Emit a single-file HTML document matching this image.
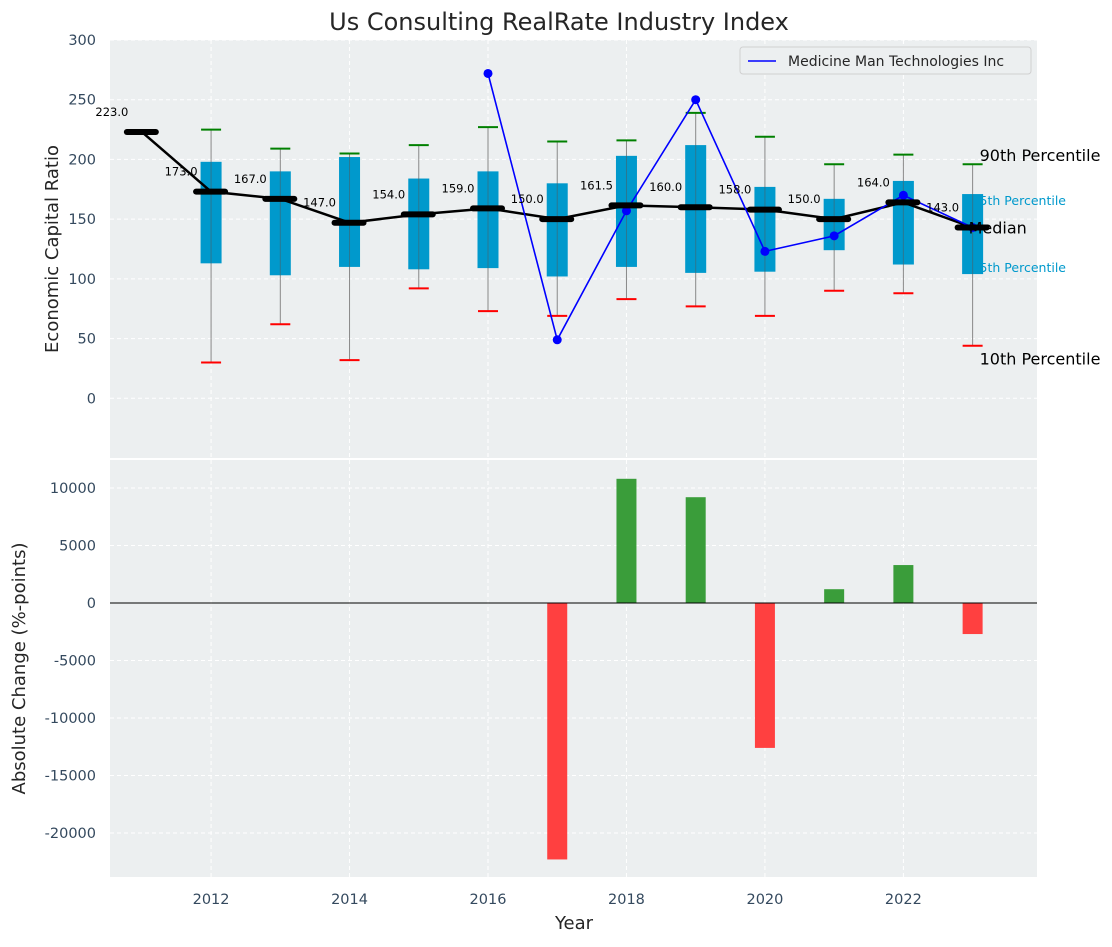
<!DOCTYPE html>
<html><head><meta charset="utf-8"><style>
body{margin:0;background:#fff;font-family:"Liberation Sans","DejaVu Sans",sans-serif}
svg text{font-family:"DejaVu Sans","Liberation Sans",sans-serif}
</style></head><body>
<svg id="c" width="1112" height="942" xmlns="http://www.w3.org/2000/svg"></svg>
<script>
const years=[2011,2012,2013,2014,2015,2016,2017,2018,2019,2020,2021,2022,2023];
const medians=[223,173,167,147,154,159,150,161.5,160,158,150,164,143];
const boxYears=[2012,2013,2014,2015,2016,2017,2018,2019,2020,2021,2022,2023];
const q3=[198,190,202,184,190,180,203,212,177,167,182,171];
const q1=[113,103,110,108,109,102,110,105,106,124,112,104];
const p90=[225,209,205,212,227,215,216,239,219,196,204,196];
const p10=[30,62,32,92,73,69,83,77,69,90,88,44];
const compYears=[2016,2017,2018,2019,2020,2021,2022,2023];
const compVals=[272,49,157,250,123,136,170,143];
const barYears=[2017,2018,2019,2020,2021,2022,2023];
const barVals=[-22300,10800,9200,-12600,1200,3300,-2700];
const yTicksTop=[0,50,100,150,200,250,300];
const yTicksBot=[-20000,-15000,-10000,-5000,0,5000,10000];
const xTicks=[2012,2014,2016,2018,2020,2022];

const NS="http://www.w3.org/2000/svg";
const svg=document.getElementById('c');
function el(t,a,p){const e=document.createElementNS(NS,t);for(const k in a)e.setAttribute(k,a[k]);(p||svg).appendChild(e);return e;}
const L=110,R=1037;
const X=v=>L+(v-2010.54)/(2023.93-2010.54)*(R-L);
const T0=40,T1=458,B0=460,B1=877;
const YT=v=>T1-(v+50)/350*(T1-T0);
const YB=v=>B1-(v+23826)/(12435+23826)*(B1-B0);

let t=el('text',{x:559,y:30,'text-anchor':'middle','font-size':24,fill:'#262626'});t.textContent='Us Consulting RealRate Industry Index';


let p=el('rect',{x:L,y:T0,width:R-L,height:T1-T0,fill:'#eceff0'});

p=el('rect',{x:L,y:B0,width:R-L,height:B1-B0,fill:'#eceff0'});


xTicks.forEach(v=>{
 el('line',{x1:X(v),x2:X(v),y1:T0,y2:T1,stroke:'#fff','stroke-dasharray':'4,3','stroke-width':1});
 el('line',{x1:X(v),x2:X(v),y1:B0,y2:B1,stroke:'#fff','stroke-dasharray':'4,3','stroke-width':1});
 const tx=el('text',{x:X(v),y:904,'text-anchor':'middle','font-size':14.5,fill:'#34495e'});tx.textContent=v;
 
});
yTicksTop.forEach(v=>{
 el('line',{x1:L,x2:R,y1:YT(v),y2:YT(v),stroke:'#fff','stroke-dasharray':'4,3','stroke-width':1});
 const tx=el('text',{x:96,y:YT(v)+5,'text-anchor':'end','font-size':14.5,fill:'#34495e'});tx.textContent=v;
 
});
yTicksBot.forEach(v=>{
 el('line',{x1:L,x2:R,y1:YB(v),y2:YB(v),stroke:'#fff','stroke-dasharray':'4,3','stroke-width':1});
 const tx=el('text',{x:96,y:YB(v)+5,'text-anchor':'end','font-size':14.5,fill:'#34495e'});tx.textContent=v;
 
});

t=el('text',{x:0,y:0,transform:`translate(58,${(T0+T1)/2}) rotate(-90)`,'text-anchor':'middle','font-size':18,fill:'#262626'});t.textContent='Economic Capital Ratio';

t=el('text',{x:0,y:0,transform:`translate(25,${(B0+B1)/2}) rotate(-90)`,'text-anchor':'middle','font-size':18,fill:'#262626'});t.textContent='Absolute Change (%-points)';

t=el('text',{x:574,y:929,'text-anchor':'middle','font-size':18,fill:'#262626'});t.textContent='Year';


const x23=X(2023);
[['90th Percentile',x23+7,YT(p90[p90.length-1])-3,'#000',16],['75th Percentile',x23-1,YT(q3[q3.length-1])+11,'#0099cc',12.5],['25th Percentile',x23-1,YT(q1[q1.length-1])-2,'#0099cc',12.5],['10th Percentile',x23+7,YT(p10[p10.length-1])+19,'#000',16]].forEach(a=>{
 const tx=el('text',{x:a[1],y:a[2],'font-size':a[4],fill:a[3]});tx.textContent=a[0];
 
});

boxYears.forEach((yr,i)=>{
 const cx=X(yr);
 let w=el('line',{x1:cx,x2:cx,y1:YT(p10[i]),y2:YT(p90[i]),stroke:'#888','stroke-width':1});
 
 let b=el('rect',{x:cx-10.5,y:YT(q3[i]),width:21,height:YT(q1[i])-YT(q3[i]),fill:'#0099cc'});
 
 el('line',{x1:cx,x2:cx,y1:YT(q3[i]),y2:YT(q1[i]),stroke:'#555','stroke-width':1,'stroke-opacity':0.5});
 let g=el('line',{x1:cx-10,x2:cx+10,y1:YT(p90[i]),y2:YT(p90[i]),stroke:'green','stroke-width':2});
 
 let r=el('line',{x1:cx-10,x2:cx+10,y1:YT(p10[i]),y2:YT(p10[i]),stroke:'red','stroke-width':2});
 
});

let ml=el('polyline',{points:years.map((y,i)=>X(y)+','+YT(medians[i])).join(' '),fill:'none',stroke:'#000','stroke-width':2.5});


let cl=el('polyline',{points:compYears.map((y,i)=>X(y)+','+YT(compVals[i])).join(' '),fill:'none',stroke:'blue','stroke-width':1.6});

compYears.forEach((y,i)=>{
 const c=el('circle',{cx:X(y),cy:YT(compVals[i]),r:4.5,fill:'blue'});
 
});

years.forEach((y,i)=>{
 const cx=X(y),cy=YT(medians[i]);
 const m=el('line',{x1:cx-15,x2:cx+14,y1:cy,y2:cy,stroke:'#000','stroke-width':6,'stroke-linecap':'round'});
 
 const tx=el('text',{x:cx-30,y:cy-16,'text-anchor':'middle','font-size':11.5,fill:'#000'});tx.textContent=medians[i].toFixed(1);
 
});
t=el('text',{x:x23-4,y:YT(143)+6,'font-size':16,fill:'#000'});t.textContent='Median';


let lg=el('rect',{x:740,y:47,width:291,height:27,rx:3,fill:'#eceff0',stroke:'#d0d0d0'});

el('line',{x1:748,x2:776,y1:61,y2:61,stroke:'blue','stroke-width':1.6});
t=el('text',{x:788,y:66,'font-size':14,fill:'#262626'});t.textContent='Medicine Man Technologies Inc';


barYears.forEach((y,i)=>{
 const v=barVals[i];const y0=YB(0),y1=YB(v);
 const b=el('rect',{x:X(y)-10,y:Math.min(y0,y1),width:20,height:Math.abs(y1-y0),fill:v>=0?'#3a9d3a':'#ff4040'});
 
});
let z=el('line',{x1:L,x2:R,y1:YB(0),y2:YB(0),stroke:'#000','stroke-width':1});

</script>
</body></html>
